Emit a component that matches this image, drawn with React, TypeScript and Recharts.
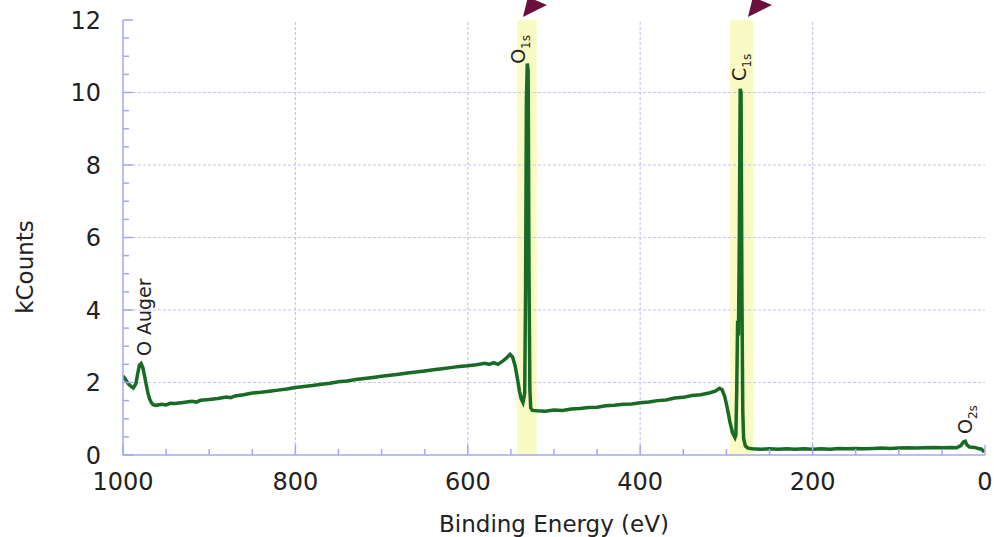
import React from 'react';
import { LineChart, Line, XAxis, YAxis, ReferenceArea, ReferenceLine, ReferenceDot } from 'recharts';

const energyEv = [
  1000, 997, 994, 991, 988, 985, 983, 981, 979, 977, 975, 973, 971, 969, 967, 965, 962,
  955, 950, 945, 940, 930, 920, 915, 910, 900, 890, 880, 875, 870, 860, 850, 840, 830, 820, 810,
  800, 790, 780, 770, 760, 750, 740, 730, 720, 710, 700, 690, 680, 670, 660, 650, 640, 630, 620,
  610, 600, 590, 580, 575, 570, 565, 560, 555, 551, 548, 545, 542, 540, 538, 536, 534, 533, 532,
  531, 530, 529, 528, 527, 525, 520, 510, 500, 490, 480, 470, 460, 450, 440, 430, 420, 410, 400,
  390, 380, 370, 360, 350, 340, 330, 320, 313, 308, 305, 302, 299, 296, 293, 290, 289, 288, 287,
  286, 285, 284, 283, 282, 281, 280, 278, 275, 270, 260, 250, 240, 230, 220, 210, 200, 190, 180,
  170, 160, 150, 140, 130, 120, 110, 100, 90, 80, 70, 60, 50, 40, 33, 28, 25, 23, 21, 18, 12, 8, 4, 1,
];

const kCounts = [
  2.18, 2.08, 1.97, 1.9, 1.85, 1.97, 2.24, 2.47, 2.52, 2.41, 2.18, 1.93, 1.7, 1.54, 1.44, 1.39, 1.37,
  1.4, 1.38, 1.43, 1.42, 1.45, 1.48, 1.46, 1.51, 1.53, 1.56, 1.6, 1.58, 1.63, 1.66, 1.71, 1.73, 1.76, 1.79, 1.82,
  1.86, 1.89, 1.92, 1.95, 1.98, 2.02, 2.04, 2.08, 2.11, 2.14, 2.17, 2.2, 2.23, 2.26, 2.29, 2.32, 2.35, 2.38, 2.41,
  2.44, 2.46, 2.49, 2.53, 2.5, 2.55, 2.5, 2.58, 2.68, 2.78, 2.7, 2.45, 2.05, 1.75, 1.55, 1.45, 1.7, 4.5, 9.8,
  10.8, 10.6, 5.0, 1.8, 1.3, 1.23, 1.22, 1.21, 1.24, 1.23, 1.27, 1.28, 1.31, 1.32, 1.36, 1.37, 1.4, 1.41, 1.44,
  1.46, 1.5, 1.52, 1.57, 1.59, 1.64, 1.66, 1.71, 1.76, 1.84, 1.8, 1.62, 1.3, 0.92, 0.62, 0.48, 0.55, 1.8, 3.7,
  3.3, 6.0, 10.1, 10.0, 4.5, 1.2, 0.45, 0.25, 0.19, 0.17, 0.16, 0.17, 0.16, 0.17, 0.16, 0.17, 0.16, 0.17, 0.16,
  0.18, 0.17, 0.18, 0.17, 0.18, 0.19, 0.18, 0.19, 0.2, 0.19, 0.2, 0.21, 0.2, 0.21, 0.2, 0.26, 0.36, 0.38, 0.28, 0.22, 0.21, 0.18, 0.16, 0.08,
];

const xMajorTicks = [1000, 800, 600, 400, 200, 0];
const xMinorTicks = [1000, 950, 900, 850, 800, 750, 700, 650, 600, 550, 500, 450, 400, 350, 300, 250, 200, 150, 100, 50, 0];
const yMajorTicks = [0, 2, 4, 6, 8, 10, 12];
const yMinorTicks = [0, 0.5, 1, 1.5, 2, 2.5, 3, 3.5, 4, 4.5, 5, 5.5, 6, 6.5, 7, 7.5, 8, 8.5, 9, 9.5, 10, 10.5, 11, 11.5, 12];

const bandFrom = [543, 296];
const bandTo = [520, 269];
const arrowEnergies = [536, 275];

const labelMain = ['O', 'C', 'O Auger', 'O'];
const labelSub = ['1s', '1s', '', '2s'];
const labelEnergy = [533.6, 277.3, 967.5, 15.1];
const labelCount = [10.79, 10.32, 2.73, 0.58];

const data = energyEv.map((e, i) => ({ e, k: kCounts[i] }));

const FONT = "'DejaVu Sans', Verdana, sans-serif";
const FRAME = '#a6a6f4';
const GRID = '#c6c6f2';
const TEXT = '#222';

const BottomTick = (props: any) => {
  const { x, y, payload } = props;
  const major = xMajorTicks.includes(payload.value);
  return (
    <g>
      <line x1={x} x2={x} y1={y} y2={y - (major ? 10 : 6)} stroke={FRAME} strokeWidth={1.5} />
      {major && (
        <text x={x} y={y + 35} textAnchor="middle" fontSize={24} fill={TEXT} fontFamily={FONT}>
          {payload.value}
        </text>
      )}
    </g>
  );
};

const TopTick = (props: any) => {
  const { x, y, payload } = props;
  const major = xMajorTicks.includes(payload.value);
  return <line x1={x} x2={x} y1={y} y2={y + (major ? 10 : 6)} stroke={FRAME} strokeWidth={1.5} />;
};

const LeftTick = (props: any) => {
  const { x, y, payload } = props;
  const major = yMajorTicks.includes(payload.value);
  return (
    <g>
      <line x1={x} x2={x + (major ? 10 : 6)} y1={y} y2={y} stroke={FRAME} strokeWidth={1.5} />
      {major && (
        <text x={x - 22} y={y + 8.5} textAnchor="end" fontSize={24} fill={TEXT} fontFamily={FONT}>
          {payload.value}
        </text>
      )}
    </g>
  );
};

const RightTick = (props: any) => {
  const { x, y, payload } = props;
  const major = yMajorTicks.includes(payload.value);
  return <line x1={x} x2={x - (major ? 10 : 6)} y1={y} y2={y} stroke={FRAME} strokeWidth={1.5} />;
};

const ArrowHead = (p: any) => (
  <polygon
    points={`${p.cx},${p.cy - 3} ${p.cx + 5},${p.cy - 23} ${p.cx + 24},${p.cy - 15}`}
    fill="#6b0f3e"
  />
);

const makePeakLabel = (main: string, sub: string) => (p: any) => (
  <text
    transform={`rotate(-90 ${p.cx} ${p.cy})`}
    x={p.cx}
    y={p.cy}
    fontSize={19}
    fontFamily={FONT}
    fill={TEXT}
  >
    {main}
    {sub ? (
      <tspan fontSize={12} dy={5}>
        {sub}
      </tspan>
    ) : null}
  </text>
);

export default function App() {
  return (
    <div style={{ position: 'absolute', left: 0, top: 0, width: 994, height: 537, background: '#fff' }}>
      <LineChart width={994} height={537} data={data} margin={{ top: 20, right: 9, bottom: 0, left: 0 }}>
        <XAxis
          xAxisId="b"
          dataKey="e"
          type="number"
          domain={[0, 1000]}
          reversed
          allowDataOverflow
          ticks={xMinorTicks}
          interval={0}
          tickSize={0}
          tickMargin={0}
          tickLine={false}
          height={82}
          axisLine={{ stroke: FRAME, strokeWidth: 1.5 }}
          tick={<BottomTick />}
        />
        <XAxis
          xAxisId="t"
          orientation="top"
          dataKey="e"
          type="number"
          domain={[0, 1000]}
          reversed
          allowDataOverflow
          ticks={xMinorTicks}
          interval={0}
          tickSize={0}
          tickMargin={0}
          tickLine={false}
          height={0}
          axisLine={{ stroke: FRAME, strokeWidth: 1.5 }}
          tick={<TopTick />}
        />
        <YAxis
          yAxisId="l"
          type="number"
          domain={[0, 12]}
          allowDataOverflow
          ticks={yMinorTicks}
          interval={0}
          tickSize={0}
          tickMargin={0}
          tickLine={false}
          width={123}
          axisLine={{ stroke: FRAME, strokeWidth: 1.5 }}
          tick={<LeftTick />}
        />
        <YAxis
          yAxisId="r"
          orientation="right"
          type="number"
          domain={[0, 12]}
          allowDataOverflow
          ticks={yMinorTicks}
          interval={0}
          tickSize={0}
          tickMargin={0}
          tickLine={false}
          width={0}
          axisLine={{ stroke: FRAME, strokeWidth: 1.5 }}
          tick={<RightTick />}
        />
        {bandFrom.map((f, i) => (
          <ReferenceArea
            key={`band${i}`}
            xAxisId="b"
            yAxisId="l"
            x1={f}
            x2={bandTo[i]}
            y1={0}
            y2={12}
            fill="#fafac4"
            fillOpacity={1}
            stroke="none"
          />
        ))}
        {xMajorTicks
          .filter((v) => v !== 0 && v !== 1000)
          .map((v) => (
            <ReferenceLine key={`gx${v}`} xAxisId="b" yAxisId="l" x={v} stroke={GRID} strokeWidth={1.2} strokeDasharray="3 2" />
          ))}
        {yMajorTicks
          .filter((v) => v !== 0 && v !== 12)
          .map((v) => (
            <ReferenceLine key={`gy${v}`} xAxisId="b" yAxisId="l" y={v} stroke={GRID} strokeWidth={1.2} strokeDasharray="3 2" />
          ))}
        <Line
          xAxisId="b"
          yAxisId="l"
          dataKey="k"
          type="linear"
          dot={false}
          stroke="#176b25"
          strokeWidth={3.5}
          isAnimationActive={false}
        />
        {arrowEnergies.map((e, i) => (
          <ReferenceDot key={`arr${i}`} xAxisId="b" yAxisId="l" x={e} y={12} ifOverflow="visible" shape={ArrowHead} />
        ))}
        {labelMain.map((m, i) => (
          <ReferenceDot
            key={`lab${i}`}
            xAxisId="b"
            yAxisId="l"
            x={labelEnergy[i]}
            y={labelCount[i]}
            ifOverflow="visible"
            shape={makePeakLabel(m, labelSub[i])}
          />
        ))}
      </LineChart>
      <svg
        width={994}
        height={537}
        style={{ position: 'absolute', left: 0, top: 0, pointerEvents: 'none' }}
      >
        <text x={33} y={267} transform="rotate(-90 33 267)" textAnchor="middle" fontSize={23} fill={TEXT} fontFamily={FONT}>
          kCounts
        </text>
        <text x={554} y={532} textAnchor="middle" fontSize={23} fill={TEXT} fontFamily={FONT}>
          Binding Energy (eV)
        </text>
      </svg>
    </div>
  );
}
